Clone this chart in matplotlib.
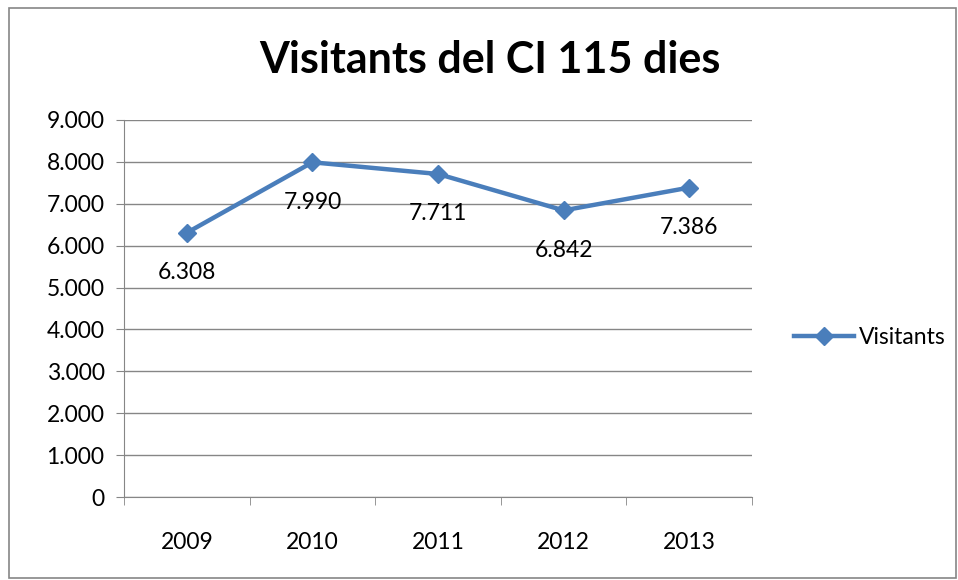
import matplotlib.pyplot as plt
from matplotlib.patches import Rectangle

plt.rcParams['font.family'] = ['Lato', 'DejaVu Sans']

anys = ['2009', '2010', '2011', '2012', '2013']
visitants = [6308, 7990, 7711, 6842, 7386]
etiquetes = ['6.308', '7.990', '7.711', '6.842', '7.386']
yticks = [0, 1000, 2000, 3000, 4000, 5000, 6000, 7000, 8000, 9000]
ylabels = ['0', '1.000', '2.000', '3.000', '4.000', '5.000', '6.000', '7.000', '8.000', '9.000']

blau = '#4A7EBB'

fig = plt.figure(figsize=(9.58, 5.8), dpi=100)
fig.patches.append(Rectangle((0.009, 0.003), 0.989, 0.984, transform=fig.transFigure,
                             fill=False, edgecolor='#868686', linewidth=1.2))

ax = fig.add_axes([124 / 958, 1 - 497 / 580, (752 - 124) / 958, (497 - 120) / 580])

x = list(range(len(anys)))
ax.plot(x, visitants, color=blau, linewidth=3.2, marker='D', markersize=9,
        markerfacecolor=blau, markeredgecolor=blau, label='Visitants', zorder=3)

for xi, v, t in zip(x, visitants, etiquetes):
    ax.annotate(t, (xi, v), xytext=(0, -40), textcoords='offset pixels',
                ha='center', va='center', fontsize=16.5)

ax.set_xlim(-0.5, 4.5)
ax.set_ylim(0, 9000)
ax.set_yticks(yticks)
ax.set_yticklabels(ylabels, fontsize=16.5)
ax.set_xticks(x)
ax.set_xticklabels(anys, fontsize=16.5)
ax.set_xticks([i - 0.5 for i in range(6)], minor=True)
ax.tick_params(axis='x', which='major', length=0, pad=25)
ax.tick_params(axis='x', which='minor', length=6, color='#868686')
ax.tick_params(axis='y', length=6, color='#868686', pad=8)
ax.grid(axis='y', color='#868686', linewidth=1)
ax.set_axisbelow(True)
for s in ['top', 'right']:
    ax.spines[s].set_visible(False)
for s in ['left', 'bottom']:
    ax.spines[s].set_color('#868686')

fig.text(490 / 958, 1 - 60 / 580, 'Visitants del CI 115 dies', ha='center', va='center',
         fontsize=31, fontweight='bold')

ax.legend(loc='center left', bbox_to_anchor=(1.053, 0.424), frameon=False, fontsize=16.5,
          handlelength=2.6, handletextpad=0.2, borderaxespad=0)

fig.savefig('out.png', dpi=100)
